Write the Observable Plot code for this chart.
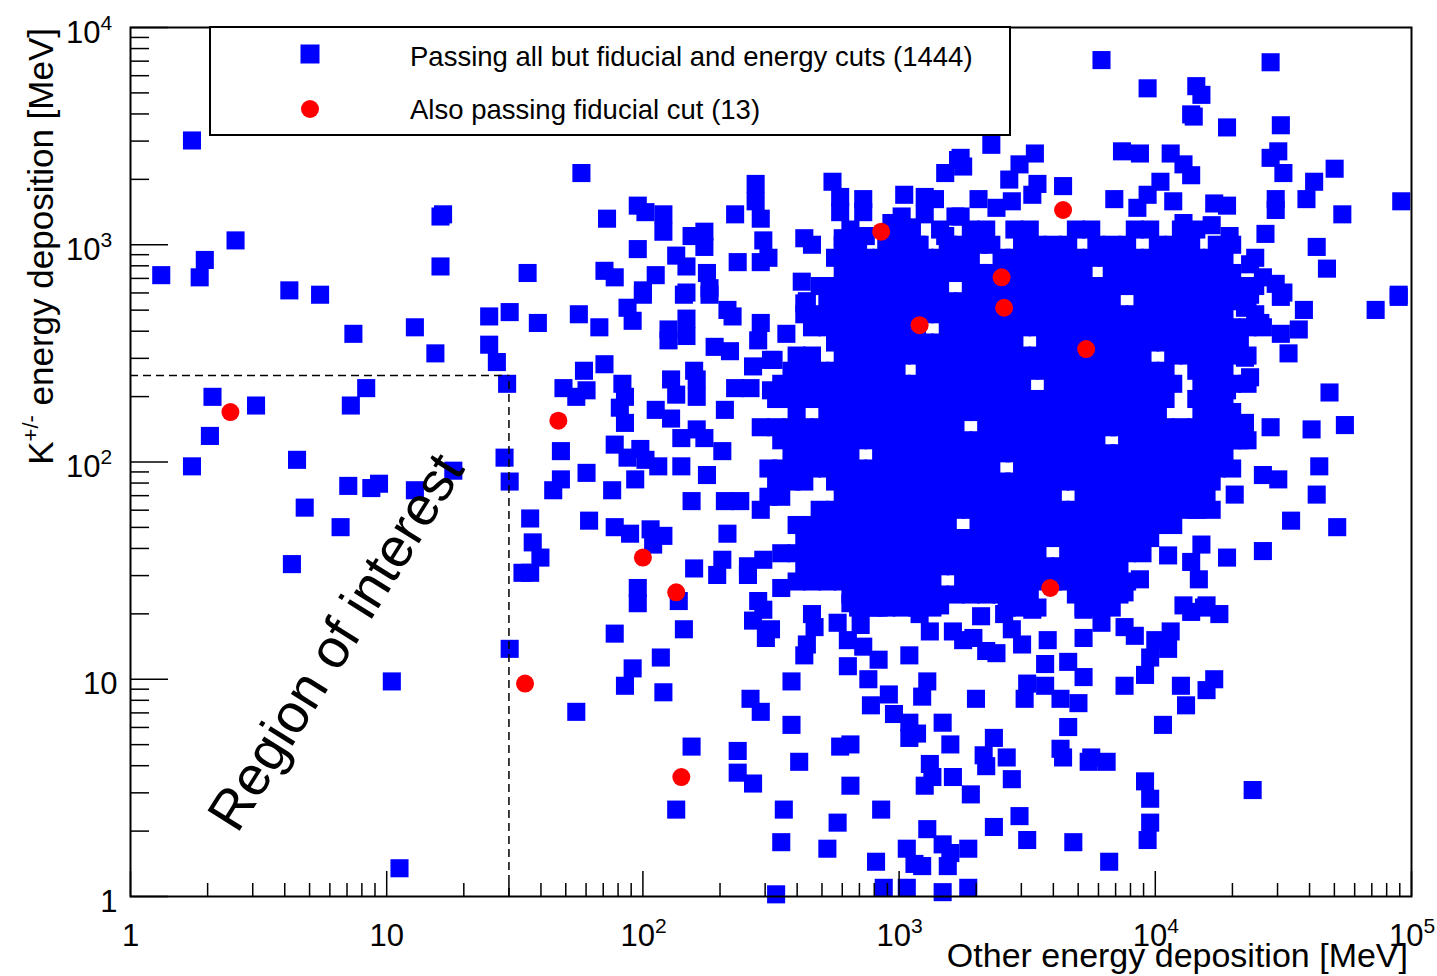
<!DOCTYPE html>
<html><head><meta charset="utf-8">
<script src="https://cdn.jsdelivr.net/npm/d3@7"></script>
<script src="https://cdn.jsdelivr.net/npm/@observablehq/plot@0.6"></script>
<style>body{margin:0;background:#fff;} #chart{width:1437px;height:976px;}</style>
</head><body><div id="chart"></div>
<script>
// Values, stored as log10(MeV): [log10(other), log10(K energy)]
const blueSparse = [
[0.24,3.48],[1.21,3.13],[1.22,3.14],[0.41,3.02],[0.29,2.93],[0.27,2.85],[0.12,2.86],[1.21,2.90],[0.62,2.79],[0.74,2.77],
[0.87,2.59],[1.11,2.62],[1.19,2.50],[0.32,2.30],[0.49,2.26],[0.92,2.34],[0.86,2.26],[0.31,2.12],[0.24,1.98],[0.65,2.01],[0.85,1.89],[0.94,1.88],[0.97,1.90],[1.11,1.87],[1.26,1.96],[0.68,1.79],[0.82,1.70],[0.63,1.53],
[1.02,0.99],[1.05,0.13],
[1.40,2.67],[1.48,2.69],[1.59,2.64],[1.40,2.54],[1.43,2.46],[1.47,2.36],[1.75,2.68],[1.83,2.62],[1.94,2.71],[1.96,2.65],[2.00,2.77],[2.16,2.77],[2.26,2.77],[2.10,2.61],[2.10,2.56],[2.17,2.66],[2.17,2.58],[2.33,2.70],[2.35,2.67],[2.28,2.53],[2.34,2.51],[2.46,2.64],[2.45,2.56],[2.56,2.59],[2.51,2.47],[2.43,2.44],[2.64,2.74],[1.85,2.45],[1.77,2.42],[1.69,2.34],[1.78,2.33],[1.74,2.30],[1.92,2.36],[1.93,2.30],[1.91,2.25],[1.93,2.18],[2.11,2.38],[2.13,2.31],[2.20,2.42],[2.21,2.38],[2.21,2.30],[2.05,2.24],[2.11,2.20],[2.15,2.11],[2.21,2.15],[2.24,2.11],[2.31,2.05],[2.32,2.24],[2.36,2.34],[2.42,2.34],[2.50,2.47],[2.50,2.33],[2.56,2.35],[1.89,2.08],[1.94,2.02],[1.99,2.06],[2.01,2.01],[2.06,1.98],[2.15,1.98],[2.25,1.94],[1.97,1.92],[1.88,1.87],[2.19,1.82],[2.32,1.82],[2.38,1.82],[1.68,2.05],[1.68,1.92],[1.65,1.87],[1.78,1.95],[1.46,2.02],[1.48,1.91],[1.56,1.74],[1.57,1.63],[1.60,1.56],[1.53,1.49],[1.56,1.49],[1.79,1.73],[1.89,1.70],[1.95,1.67],[2.03,1.69],[2.08,1.66],[2.04,1.62],[1.98,1.42],[1.98,1.35],[2.14,1.36],[2.20,1.51],[2.33,1.67],[2.31,1.55],[2.29,1.48],[2.41,1.52],[2.41,1.48],[2.47,1.55],[2.54,1.42],[2.45,1.36],
[1.48,1.14],[1.74,0.85],[1.89,1.21],[1.96,1.05],[1.93,0.97],[2.07,1.10],[2.08,0.94],[2.16,1.23],[2.19,0.69],[2.13,0.40],[2.37,0.67],[2.37,0.57],[2.43,0.52],[2.42,0.91],[2.46,0.85],[2.58,0.99],[2.58,0.79],[2.61,0.62],[2.55,0.40],[2.54,0.25],[2.52,0.01],[2.72,0.22],[2.76,0.34],[2.81,0.51],[2.77,0.69],[2.81,0.70],[2.93,0.40],[2.91,0.16],[2.94,0.04],[3.03,0.04],[3.17,0.02],[3.03,0.22],[3.06,0.15],[3.09,0.14],[3.11,0.31],[3.17,0.24],[3.20,0.20],[3.19,0.14],[2.43,1.27],[2.47,1.32],[2.50,1.23],[2.48,1.19],[2.66,1.30],[2.67,1.24],[2.64,1.16],[2.63,1.11],[2.76,1.26],[2.81,1.35],[2.85,1.25],[2.80,1.18],[2.86,1.15],[2.80,1.06],[2.88,1.00],[2.92,1.09],[2.92,1.33],[2.96,0.93],[2.89,0.88],[2.98,0.84],[3.04,0.80],[3.04,0.73],[3.07,0.75],[3.04,1.11],[3.11,0.99],[3.09,0.92],[3.17,0.80],[3.20,0.70],[3.12,0.61],[3.13,0.55],[3.10,0.51],[3.21,0.55],[3.01,1.35],[3.08,1.30],[3.12,1.22],[3.16,1.34],[3.21,1.22],
[3.32,1.29],[3.41,1.30],[3.44,1.23],[3.48,1.16],[3.52,1.32],[3.58,1.18],[3.72,1.19],[3.72,1.32],[3.79,1.26],[3.88,1.24],[3.92,1.20],[4.00,1.18],[4.06,1.22],[4.05,1.14],[3.98,1.10],[3.96,1.02],[4.14,1.31],[4.25,1.30],[4.19,1.33],[3.25,1.18],[3.29,1.19],[3.34,1.13],[3.38,1.12],[3.57,1.07],[3.66,1.08],[3.72,1.01],[3.50,0.98],[3.57,0.97],[3.88,0.97],[4.10,0.97],[4.23,1.00],[4.20,0.95],[4.12,0.88],[4.03,0.79],[3.30,0.91],[3.49,0.91],[3.63,0.91],[3.70,0.89],[3.66,0.78],[3.37,0.73],[3.33,0.65],[3.42,0.64],[3.34,0.60],[3.63,0.68],[3.64,0.64],[3.75,0.64],[3.81,0.62],[3.74,0.62],[3.44,0.54],[3.28,0.47],[3.96,0.53],[3.98,0.45],[3.98,0.34],[3.97,0.26],[4.38,0.49],[3.47,0.37],[3.37,0.32],[3.50,0.26],[3.68,0.25],[3.82,0.16],[3.27,0.04],[3.27,0.22],
[4.86,2.70],[4.95,2.76],[4.58,2.70],[4.56,2.61],[4.49,2.59],[4.52,2.50],[4.68,2.32],[4.74,2.17],[4.61,2.15],[4.45,2.16],[4.64,1.98],[4.42,1.94],[4.48,1.92],[4.63,1.85],[4.31,1.85],[4.53,1.73],[4.71,1.70],[4.42,1.59],[4.28,1.56],[4.18,1.62],[4.14,1.54],[4.17,1.46],[4.05,1.57],[3.94,1.46],[4.16,1.78],[4.20,1.85],[4.33,2.10],[4.35,2.18],[4.23,2.19],[4.28,2.33],[4.37,2.39],[4.35,2.48],[4.41,2.64],[4.35,2.71],[4.49,2.76],[3.88,1.40],[4.11,1.34],[4.20,1.34],
[3.79,3.85],[4.45,3.84],[3.97,3.72],[4.16,3.73],[4.18,3.69],[4.14,3.60],[4.15,3.59],[4.28,3.54],[4.49,3.55],[4.48,3.43],[4.45,3.40],[4.50,3.33],[4.70,3.35],[4.62,3.29],[4.59,3.21],[4.73,3.14],[4.96,3.20],[4.47,3.21],[4.47,3.16],[4.43,3.05],[4.63,2.99],[4.67,2.89],[4.95,2.77],[3.36,3.46],[3.87,3.43],[3.94,3.42],[4.06,3.42],[4.11,3.37],[4.14,3.32],[4.02,3.29],[3.97,3.23],[4.07,3.20],[3.53,3.42],[3.47,3.37],[3.43,3.30],[3.54,3.28],[3.52,3.23],[3.64,3.27],[3.84,3.21],[3.31,3.21],[3.38,3.17],[3.44,3.20],[3.24,3.40],[3.25,3.36],[3.24,3.13],[4.23,3.19],[4.28,3.18],[4.11,3.10],[4.22,3.09],[4.14,3.00],[4.29,3.04],[4.26,2.96],[4.37,2.91],[4.42,2.85],[4.47,2.82],[4.50,2.78],[4.37,2.77],[3.93,3.17],[2.63,2.73],
[1.76,3.33],[1.55,2.87],[1.86,3.12],[1.98,3.18],[2.01,3.15],[2.08,3.14],[2.08,3.06],[1.98,2.98],[2.19,3.04],[2.24,3.06],[2.24,2.99],[2.13,2.95],[2.17,2.90],[2.25,2.87],[2.26,2.80],[1.85,2.88],[1.89,2.85],[2.00,2.79],[2.05,2.86],[2.17,2.78],[2.36,3.14],[2.44,3.28],[2.44,3.20],[2.46,3.12],[2.47,3.02],[2.49,2.94],[2.46,2.92],[2.37,2.92],[2.62,2.83],[2.63,3.03],[2.66,3.00],[2.74,3.29],[2.77,3.22],[2.77,3.15],[2.86,3.21],[2.86,3.15],[2.78,3.03],[2.87,3.04],[2.80,2.89],[2.77,2.81],[3.02,3.23],[3.10,3.22],[3.14,3.21],[3.18,3.33],[3.23,3.39],[3.01,3.13],[3.05,3.08],[3.10,3.14],[2.97,3.10],[3.01,2.99],[3.08,3.00],[3.18,3.04],[3.22,3.13]
];

// Dense core, read row by row: [log10(K energy), [log10(other) ...]]
const blueDenseRows = [
[3.07,[2.81,2.99,3.04,3.16,3.28,3.34,3.45,3.51,3.69,3.75,3.92,3.98,4.10,4.16]],
[3.00,[2.78,2.84,2.95,3.01,3.07,3.19,3.25,3.31,3.36,3.48,3.54,3.60,3.66,3.77,3.83,3.89,4.01,4.07,4.13,4.24,4.30]],
[2.94,[2.75,2.81,2.87,2.93,2.99,3.04,3.10,3.16,3.22,3.28,3.40,3.45,3.51,3.57,3.63,3.69,3.75,3.81,3.86,3.92,3.98,4.04,4.10,4.16,4.22,4.27,4.39]],
[2.87,[2.78,2.84,2.90,2.95,3.01,3.07,3.13,3.19,3.25,3.31,3.36,3.42,3.48,3.54,3.60,3.66,3.72,3.83,3.89,3.95,4.01,4.07,4.13,4.18,4.24,4.30]],
[2.81,[2.69,2.75,2.81,2.87,2.93,2.99,3.04,3.10,3.16,3.28,3.34,3.40,3.45,3.51,3.57,3.63,3.69,3.75,3.81,3.86,3.92,3.98,4.04,4.10,4.16,4.22,4.27,4.33,4.39]],
[2.74,[2.72,2.78,2.84,2.90,2.95,3.01,3.07,3.13,3.19,3.25,3.31,3.36,3.42,3.48,3.54,3.60,3.66,3.72,3.77,3.83,3.95,4.01,4.07,4.13,4.18,4.24,4.30,4.36]],
[2.68,[2.63,2.69,2.75,2.81,2.87,2.93,2.99,3.04,3.10,3.16,3.22,3.28,3.34,3.40,3.45,3.51,3.57,3.63,3.69,3.75,3.81,3.86,3.92,3.98,4.04,4.10,4.16,4.22,4.27,4.39]],
[2.62,[2.66,2.72,2.78,2.84,2.90,2.95,3.01,3.07,3.19,3.25,3.31,3.36,3.42,3.48,3.54,3.60,3.66,3.72,3.77,3.83,3.89,3.95,4.01,4.07,4.13,4.18,4.24,4.30,4.36,4.42]],
[2.55,[2.75,2.81,2.87,2.93,2.99,3.04,3.10,3.16,3.22,3.28,3.34,3.40,3.45,3.57,3.63,3.69,3.75,3.81,3.86,3.92,3.98,4.04,4.10,4.16,4.22,4.27,4.33]],
[2.49,[2.60,2.66,2.78,2.84,2.90,2.95,3.01,3.07,3.13,3.19,3.25,3.31,3.36,3.42,3.48,3.54,3.60,3.66,3.72,3.77,3.83,3.89,3.95,4.07,4.13,4.18,4.24,4.30,4.36]],
[2.42,[2.58,2.63,2.69,2.75,2.81,2.87,2.93,2.99,3.10,3.16,3.22,3.28,3.34,3.40,3.45,3.51,3.57,3.63,3.69,3.75,3.81,3.86,3.92,3.98,4.04,4.16,4.22,4.27]],
[2.36,[2.54,2.60,2.66,2.72,2.78,2.84,2.90,2.95,3.01,3.07,3.13,3.19,3.25,3.31,3.36,3.42,3.48,3.60,3.66,3.72,3.77,3.83,3.89,3.95,4.01,4.07,4.18,4.24,4.30,4.36]],
[2.29,[2.52,2.58,2.63,2.69,2.75,2.81,2.87,2.93,2.99,3.04,3.10,3.16,3.22,3.28,3.34,3.40,3.45,3.51,3.57,3.63,3.69,3.75,3.81,3.86,3.92,3.98,4.04,4.16,4.22,4.27]],
[2.23,[2.60,2.72,2.78,2.84,2.90,2.95,3.01,3.07,3.13,3.19,3.25,3.31,3.36,3.42,3.48,3.54,3.60,3.66,3.72,3.77,3.83,3.89,3.95,4.01,4.18,4.24,4.30]],
[2.16,[2.46,2.52,2.58,2.63,2.69,2.75,2.81,2.87,2.93,2.99,3.04,3.10,3.16,3.22,3.34,3.40,3.45,3.51,3.57,3.63,3.69,3.75,3.81,3.86,3.92,3.98,4.04,4.10,4.16,4.22,4.27,4.33]],
[2.10,[2.54,2.60,2.66,2.72,2.78,2.84,2.90,2.95,3.01,3.07,3.13,3.19,3.25,3.31,3.36,3.42,3.48,3.54,3.60,3.66,3.72,3.77,3.89,3.95,4.01,4.07,4.13,4.18,4.24,4.30,4.36]],
[2.04,[2.58,2.63,2.69,2.75,2.81,2.93,2.99,3.04,3.10,3.16,3.22,3.28,3.34,3.40,3.45,3.51,3.57,3.63,3.69,3.75,3.81,3.86,3.92,3.98,4.04,4.10,4.16,4.22,4.27]],
[1.97,[2.49,2.54,2.60,2.66,2.72,2.78,2.84,2.90,2.95,3.01,3.07,3.13,3.19,3.25,3.31,3.36,3.48,3.54,3.60,3.66,3.72,3.77,3.83,3.89,3.95,4.01,4.07,4.13,4.18,4.24,4.30]],
[1.91,[2.52,2.58,2.63,2.75,2.81,2.87,2.93,2.99,3.04,3.10,3.16,3.22,3.28,3.34,3.40,3.45,3.51,3.57,3.63,3.69,3.75,3.81,3.86,3.92,3.98,4.04,4.10,4.16,4.22]],
[1.84,[2.49,2.54,2.78,2.84,2.90,2.95,3.01,3.07,3.13,3.19,3.25,3.31,3.36,3.42,3.48,3.54,3.60,3.72,3.77,3.83,3.89,3.95,4.01,4.07,4.13,4.18]],
[1.78,[2.46,2.69,2.75,2.81,2.87,2.93,2.99,3.04,3.10,3.16,3.22,3.28,3.34,3.40,3.45,3.51,3.57,3.63,3.69,3.75,3.81,3.86,3.92,3.98,4.04,4.10,4.16,4.22]],
[1.71,[2.60,2.66,2.72,2.78,2.84,2.90,2.95,3.01,3.07,3.13,3.19,3.31,3.36,3.42,3.48,3.54,3.60,3.66,3.72,3.77,3.83,3.89,3.95,4.01,4.07]],
[1.65,[2.63,2.69,2.75,2.81,2.87,2.93,2.99,3.04,3.10,3.16,3.22,3.28,3.34,3.40,3.45,3.51,3.57,3.63,3.69,3.75,3.81,3.86,3.92,3.98]],
[1.58,[2.54,2.60,2.66,2.72,2.78,2.84,2.90,2.95,3.01,3.07,3.13,3.19,3.25,3.31,3.36,3.42,3.48,3.54,3.66,3.72,3.77,3.83,3.89,3.95]],
[1.52,[2.63,2.69,2.75,2.81,2.87,2.93,2.99,3.04,3.10,3.16,3.22,3.28,3.34,3.40,3.45,3.51,3.57,3.63,3.69,3.75,3.81,3.86]],
[1.45,[2.60,2.66,2.72,2.78,2.84,2.90,2.95,3.01,3.07,3.13,3.25,3.31,3.36,3.42,3.48,3.54,3.60,3.66,3.72,3.77,3.83,3.89]],
[1.39,[2.81,2.87,2.93,2.99,3.04,3.10,3.16,3.22,3.28,3.34,3.40,3.45,3.51,3.69,3.75,3.81,3.86]],
[1.33,[2.84,2.90,2.95,3.01,3.07,3.13,3.42,3.48,3.54,3.72,3.77,3.83]]
];

const redPts = [[0.39,2.23],[1.54,0.98],[1.67,2.19],[2.00,1.56],[2.13,1.40],[2.15,0.55],[2.93,3.06],[3.08,2.63],[3.40,2.85],[3.41,2.71],[3.64,3.16],[3.73,2.52],[3.59,1.42]];

const xTickValues = [1,10,100,1000,10000,100000];
const xTickBase = ["1","10","10","10","10","10"];
const xTickSup = ["","","2","3","4","5"];
const yTickValues = [1,10,100,1000,10000];
const yTickBase = ["1","10","10","10","10"];
const yTickSup = ["","","2","3","4"];
const minorMult = [2,3,4,5,6,7,8,9];

const legendLabels = ["Passing all but fiducial and energy cuts (1444)", "Also passing fiducial cut (13)"];
const xTitle = "Other energy deposition [MeV]";
const roiLabel = {x: 6.37, y: 14.8, text: "Region of interest"};
const roiCut = {x: 30, y: 250};

const W = 1437, H = 976, ML = 130, MR = 26, MT = 27, MB = 80;
const plotW = W - ML - MR, plotH = H - MT - MB;
const font = "'Liberation Sans', Arial, Helvetica, sans-serif";

const toPt = ([lx, ly]) => ({x: 10 ** lx, y: 10 ** ly});
const blue = [...blueSparse, ...blueDenseRows.flatMap(([ly, lxs]) => lxs.map(lx => [lx, ly]))].map(toPt);
const red = redPts.map(toPt);

const xLabels = xTickValues.map((v, i) => ({v, base: xTickBase[i], sup: xTickSup[i]}));
const yLabels = yTickValues.map((v, i) => ({v, base: yTickBase[i], sup: yTickSup[i]}));
const xMinor = xTickValues.slice(0, -1).flatMap(d => minorMult.map(m => m * d));
const yMinor = yTickValues.slice(0, -1).flatMap(d => minorMult.map(m => m * d));

const tickStyle = {stroke: "black", strokeWidth: 1.5};

const chart = Plot.plot({
  width: W, height: H,
  marginLeft: ML, marginRight: MR, marginTop: MT, marginBottom: MB,
  style: {fontFamily: font, background: "white", color: "black", overflow: "visible"},
  x: {type: "log", domain: [1, 1e5], axis: null},
  y: {type: "log", domain: [1, 1e4], axis: null},
  marks: [
    Plot.dot(blue, {x: "x", y: "y", symbol: "square", r: 10.2, fill: "#0000ff"}),
    Plot.ruleY([roiCut.y], {x1: 1, x2: roiCut.x, stroke: "black", strokeWidth: 1.5, strokeDasharray: "8,5"}),
    Plot.ruleX([roiCut.x], {y1: 1, y2: roiCut.y, stroke: "black", strokeWidth: 1.5, strokeDasharray: "8,5"}),
    Plot.dot(red, {x: "x", y: "y", r: 9, fill: "#ff0000"}),
    Plot.tickY(yTickValues, {y: d => d, insetRight: plotW - 38, ...tickStyle}),
    Plot.tickY(yMinor, {y: d => d, insetRight: plotW - 19, ...tickStyle}),
    Plot.tickX(xTickValues, {x: d => d, insetTop: plotH - 25, ...tickStyle}),
    Plot.tickX(xMinor, {x: d => d, insetTop: plotH - 13, ...tickStyle}),
    Plot.frame({stroke: "black", strokeWidth: 2}),
    Plot.text(yLabels.filter(d => !d.sup), {y: "v", text: "base", frameAnchor: "left", textAnchor: "end", lineAnchor: "bottom", dx: -13, dy: 15, fontSize: 31, fill: "black"}),
    Plot.text(yLabels.filter(d => d.sup), {y: "v", text: "base", frameAnchor: "left", textAnchor: "end", lineAnchor: "bottom", dx: -30, dy: 15, fontSize: 31, fill: "black"}),
    Plot.text(yLabels.filter(d => d.sup), {y: "v", text: "sup", frameAnchor: "left", textAnchor: "start", lineAnchor: "bottom", dx: -30, dy: 2, fontSize: 21, fill: "black"}),
    Plot.text(xLabels.filter(d => !d.sup), {x: "v", text: "base", frameAnchor: "bottom", textAnchor: "middle", lineAnchor: "bottom", dy: 49, fontSize: 31, fill: "black"}),
    Plot.text(xLabels.filter(d => d.sup), {x: "v", text: "base", frameAnchor: "bottom", textAnchor: "end", lineAnchor: "bottom", dx: 12, dy: 49, fontSize: 31, fill: "black"}),
    Plot.text(xLabels.filter(d => d.sup), {x: "v", text: "sup", frameAnchor: "bottom", textAnchor: "start", lineAnchor: "bottom", dx: 12, dy: 36, fontSize: 21, fill: "black"}),
    Plot.text([roiLabel], {x: "x", y: "y", text: "text", rotate: -58, fontSize: 55, fill: "black"})
  ]
});

const svg = d3.select(chart);
const yt = svg.append("text")
  .attr("transform", "translate(53,28) rotate(-90)")
  .attr("text-anchor", "end").attr("font-family", font).attr("font-size", 35).attr("fill", "black");
yt.append("tspan").text("K");
yt.append("tspan").attr("font-size", 22).attr("dy", -15).text("+/-");
yt.append("tspan").attr("dy", 15).text(" energy deposition [MeV]");

svg.append("text").attr("x", 1408).attr("y", 967).attr("text-anchor", "end")
  .attr("font-family", font).attr("font-size", 34).attr("fill", "black").text(xTitle);

const lg = svg.append("g");
lg.append("rect").attr("x", 210).attr("y", 27).attr("width", 800).attr("height", 108)
  .attr("fill", "white").attr("stroke", "black").attr("stroke-width", 2);
lg.append("rect").attr("x", 300.5).attr("y", 44.5).attr("width", 19).attr("height", 19).attr("fill", "#0000ff");
lg.append("circle").attr("cx", 310).attr("cy", 109).attr("r", 9).attr("fill", "#ff0000");
lg.append("text").attr("x", 410).attr("y", 66).attr("text-anchor", "start").attr("font-family", font).attr("font-size", 27.5).attr("fill", "black").text(legendLabels[0]);
lg.append("text").attr("x", 410).attr("y", 119).attr("text-anchor", "start").attr("font-family", font).attr("font-size", 27.5).attr("fill", "black").text(legendLabels[1]);

document.getElementById("chart").appendChild(chart);
</script>
</body></html>
